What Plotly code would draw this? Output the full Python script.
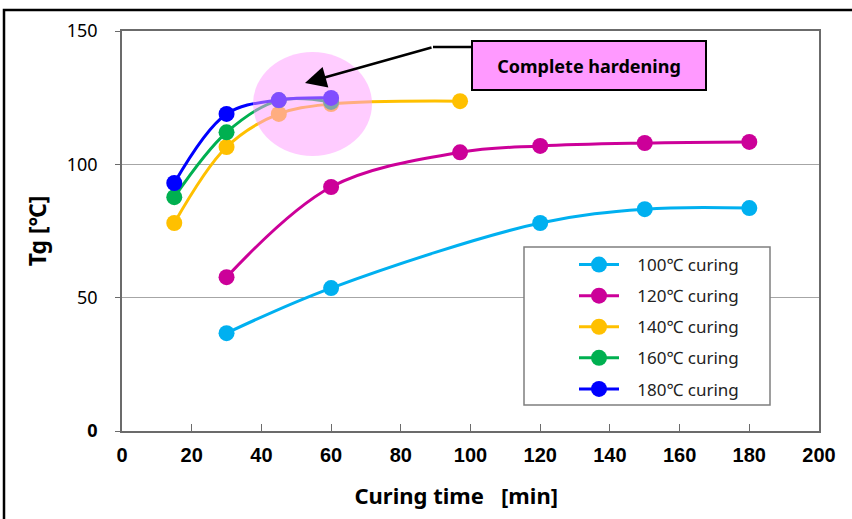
import plotly.graph_objects as go

# ---- data ----
series_names = ["100℃ curing", "120℃ curing", "140℃ curing", "160℃ curing", "180℃ curing"]
t100 = [30, 60, 120, 150, 180]
tg100 = [36.7, 53.6, 78.0, 83.2, 83.6]
t120 = [30, 60, 97, 120, 150, 180]
tg120 = [57.7, 91.5, 104.5, 106.9, 108.0, 108.4]
t140 = [15, 30, 45, 60, 97]
tg140 = [78.0, 106.5, 118.9, 122.6, 123.7]
t160 = [15, 30, 45, 60]
tg160 = [87.7, 112.0, 124.0, 123.4]
t180 = [15, 30, 45, 60]
tg180 = [93.0, 118.9, 124.1, 124.9]
colors = ["#00B0F0", "#CC0099", "#FFC000", "#00B050", "#0000FF"]

x_ticks = [0, 20, 40, 60, 80, 100, 120, 140, 160, 180, 200]
y_ticks = [0, 50, 100, 150]

xs = [t100, t120, t140, t160, t180]
ys = [tg100, tg120, tg140, tg160, tg180]

W, H = 852, 519
L, R, T, B = 122, 33, 31, 88
PW, PH = W - L - R, H - T - B

NB = "\u00a0"

fig = go.Figure()
for i, (name, x, y, c) in enumerate(zip(series_names, xs, ys, colors)):
    fig.add_trace(go.Scatter(
        x=x, y=y, name=NB * 3 + name, mode="lines+markers",
        line=dict(color=c, width=3, shape="spline", smoothing=1.0),
        marker=dict(color=c, size=16),
        legendgroup=f"g{i}",
    ))

def px2x(px):
    return (px - L) / PW * 200

def py2y(py):
    return (H - B - py) / PH * 150

def pxp(px):
    return (px - L) / PW

def pyp(py):
    return (H - B - py) / PH

shapes = [
    # pink highlight ellipse
    dict(type="circle", xref="x", yref="y",
         x0=px2x(253), x1=px2x(372), y0=py2y(156), y1=py2y(52),
         fillcolor="rgba(255,153,255,0.5)", line=dict(width=0), layer="above"),
    # connector line from box to arrow
    dict(type="line", xref="x", yref="y",
         x0=px2x(433), y0=py2y(47), x1=px2x(471), y1=py2y(47),
         line=dict(color="black", width=2.5), layer="above"),
    # legend frame
    dict(type="rect", xref="paper", yref="paper",
         x0=pxp(524), x1=pxp(770), y0=pyp(405), y1=pyp(247),
         fillcolor="white", line=dict(color="#7f7f7f", width=1.5), layer="above"),
    # outer frame
    dict(type="rect", xref="paper", yref="paper",
         x0=pxp(4), x1=pxp(880), y0=pyp(560), y1=pyp(10),
         line=dict(color="black", width=2.5), fillcolor="rgba(0,0,0,0)", layer="below"),
]

annotations = [
    dict(x=px2x(305), y=py2y(83), xref="x", yref="y",
         ax=433 - 305, ay=47 - 83, axref="pixel", ayref="pixel",
         showarrow=True, arrowhead=2, arrowsize=1.7, arrowwidth=2.5,
         arrowcolor="black", text=""),
    dict(x=px2x(589), y=py2y(65.5), xref="x", yref="y", showarrow=False,
         text="<b>Complete hardening</b>", bgcolor="#FF99FF", bordercolor="black",
         borderwidth=2, borderpad=2, width=228, height=43,
         font=dict(family="Noto Sans, Liberation Sans, sans-serif", size=18, color="black")),
]

axis_common = dict(showline=True, linecolor="#6b6b6b", linewidth=1.5, mirror=True,
                   zeroline=False)

fig.update_layout(
    width=W, height=H,
    margin=dict(l=L, r=R, t=T, b=B, autoexpand=False),
    paper_bgcolor="white", plot_bgcolor="white",
    shapes=shapes, annotations=annotations,
    xaxis=dict(range=[0, 200], tickvals=x_ticks, ticktext=[f"<b>{v}</b>" for v in x_ticks],
               ticks="inside", ticklen=7, tickcolor="#6b6b6b", showgrid=False,
               tickfont=dict(family="Liberation Sans, Arial, sans-serif", size=20, color="black"),
               ticklabelstandoff=5,
               title=dict(text="<b>Curing time" + NB * 3 + "[min]" + NB * 5 + "</b>", standoff=24,
                          font=dict(family="Noto Sans, Liberation Sans, sans-serif", size=22, color="black")),
               **axis_common),
    yaxis=dict(range=[0, 150], tickvals=y_ticks,
               ticktext=["<b>0</b>" if v == 0 else str(v) for v in y_ticks],
               ticks="outside", ticklen=5, tickcolor="#6b6b6b",
               showgrid=True, gridcolor="#a6a6a6", gridwidth=1,
               tickfont=dict(family="Noto Sans, Liberation Sans, sans-serif", size=18, color="black"),
               ticklabelstandoff=14,
               title=dict(text="<b>Tg [℃]</b>", standoff=14,
                          font=dict(family="Noto Sans, Liberation Sans, sans-serif", size=23, color="black")),
               **axis_common),
    legend=dict(x=pxp(574), y=pyp(247), xanchor="left", yanchor="top",
                bgcolor="rgba(0,0,0,0)", borderwidth=0,
                font=dict(family="Noto Sans, Liberation Sans, sans-serif", size=17, color="#222"),
                traceorder="grouped", tracegroupgap=6, itemwidth=40),
    showlegend=True,
)

fig.write_html("out.html", config={"displayModeBar": False},
               post_script="document.body.style.margin='0';")
